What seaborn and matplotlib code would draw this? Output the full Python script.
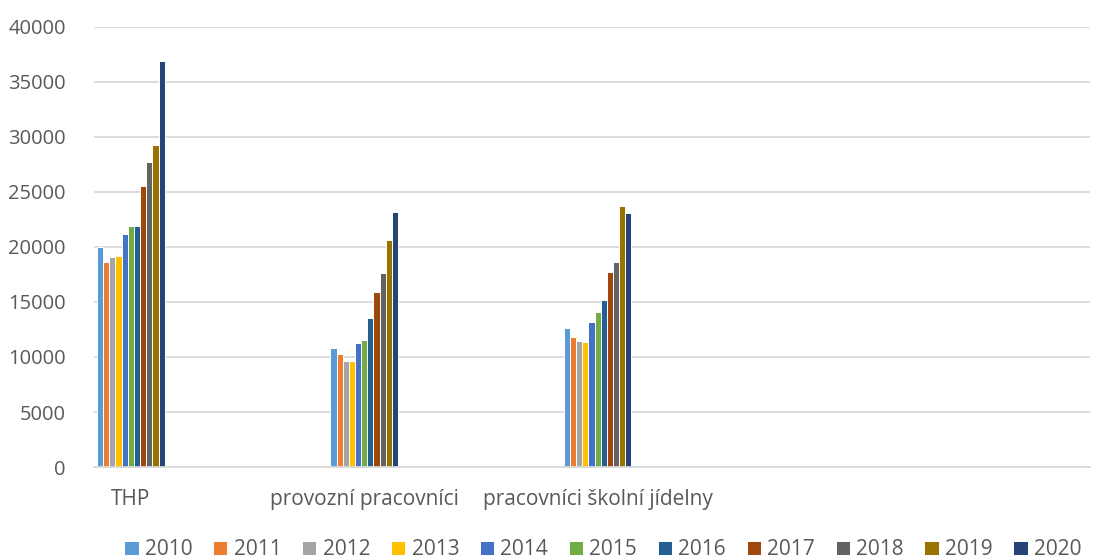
import numpy as np
import pandas as pd
import seaborn as sns
import matplotlib.pyplot as plt

# data
categories = ["THP", "provozní pracovníci", "pracovníci školní jídelny"]
years = ["2010", "2011", "2012", "2013", "2014", "2015",
         "2016", "2017", "2018", "2019", "2020"]
thp = [20000, 18600, 19100, 19150, 21200, 21900, 21950, 25500, 27700, 29300, 36900]
provozni = [10800, 10300, 9650, 9650, 11250, 11500, 13550, 15900, 17600, 20600, 23150]
jidelny = [12650, 11800, 11420, 11400, 13200, 14050, 15150, 17750, 18600, 23700, 23050]

colors = ["#5B9BD5", "#ED7D31", "#A5A5A5", "#FFC000", "#4472C4", "#70AD47",
          "#255E91", "#9E480E", "#636363", "#997300", "#264478"]

rows = []
for cat, vals in zip(categories, [thp, provozni, jidelny]):
    for yr, v in zip(years, vals):
        rows.append({"kategorie": cat, "rok": yr, "hodnota": v})
df = pd.DataFrame(rows)

sns.set_style("white")
plt.rcParams['font.family'] = ['Open Sans', 'DejaVu Sans']

fig = plt.figure(figsize=(11, 5.6), dpi=100)
ax = fig.add_axes([0.085, 0.166, 0.906, 0.786])

sns.barplot(data=df, x="kategorie", y="hodnota", hue="rok",
            order=categories, hue_order=years, palette=colors,
            width=0.29, edgecolor="white", linewidth=0.7,
            saturation=1, ax=ax)

ax.set_ylim(0, 40000)
ax.set_xlim(-0.16, 4.11)
ax.set_yticks(np.arange(0, 40001, 5000))
ax.yaxis.grid(True, color="#D9D9D9", linewidth=1.3)
ax.set_axisbelow(True)
for s in ["top", "right", "left"]:
    ax.spines[s].set_visible(False)
ax.spines["bottom"].set_color("#D9D9D9")
ax.spines["bottom"].set_linewidth(1.3)
ax.tick_params(axis="both", length=0, colors="#595959")
ax.tick_params(axis="x", pad=16, labelsize=15)
ax.tick_params(axis="y", pad=20, labelsize=14.5)
ax.set_xlabel("")
ax.set_ylabel("")

ax.get_legend().remove()
handles, labels = ax.get_legend_handles_labels()
fig.legend(handles, labels, loc="lower center", bbox_to_anchor=(0.548, -0.034),
           ncol=11, frameon=False, fontsize=15, handlelength=0.7,
           handleheight=0.7, handletextpad=0.3, columnspacing=0.98,
           labelcolor="#595959")

plt.savefig("out.png", dpi=100)
plt.close()
